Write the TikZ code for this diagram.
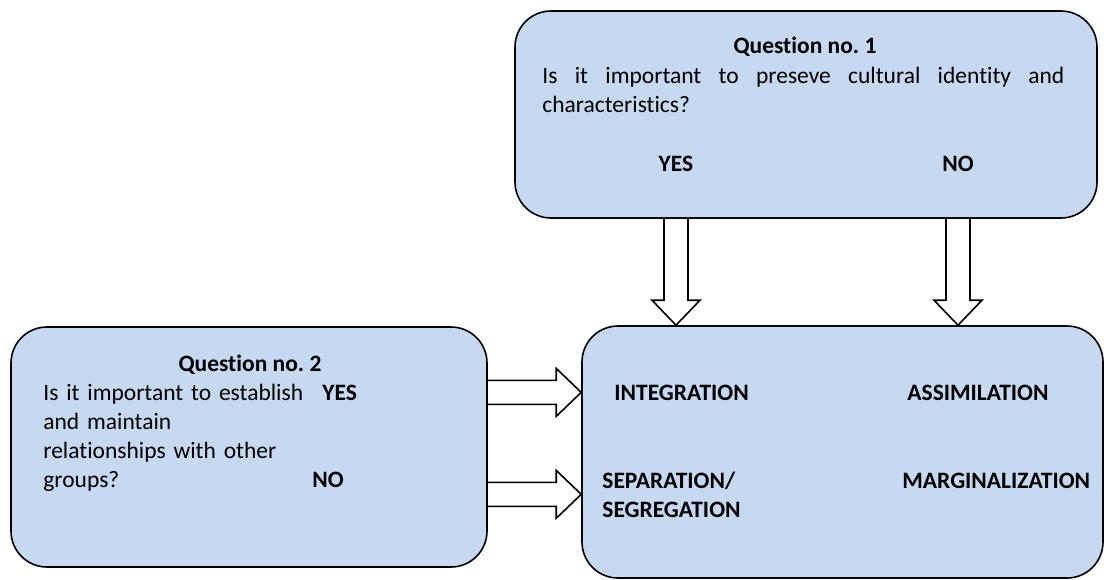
\documentclass[tikz,border=0pt]{standalone}
\usepackage{fontspec}
\setmainfont{Carlito}[Ligatures={NoCommon}]
\usetikzlibrary{calc,backgrounds}
\definecolor{panelblue}{HTML}{C6D9F1}
\hyphenpenalty=10000
\tolerance=10000
\frenchspacing
\newcommand{\diagfont}{\fontsize{11.75}{14.5}\selectfont}
% hollow block arrow from #1 to the tip #2
\newcommand{\fatarrow}[2]{%
  \coordinate (fah) at ($(#2)!12.5pt!(#1)$);
  \filldraw[fatline] ($(#1)!6pt!90:(#2)$) -- ($(fah)!6pt!90:(#2)$) -- ($(fah)!12pt!90:(#2)$)
    -- (#2) -- ($(fah)!12pt!-90:(#2)$) -- ($(fah)!6pt!-90:(#2)$) -- ($(#1)!6pt!-90:(#2)$);
}
\begin{document}
\begin{tikzpicture}[
    x=0.5pt, y=-0.5pt,
    every node/.style={font=\diagfont, inner sep=0pt},
    panel/.style={draw, line width=0.8pt, rounded corners=18pt, fill=panelblue},
    answer/.style={font=\diagfont\bfseries},
    fatline/.style={draw, fill=white, line width=0.8pt, line join=miter}
]
\useasboundingbox (0,0) rectangle (1104,579);

% the three boxes
\node [panel, minimum width=291pt, minimum height=103.5pt] (q1box) at (806,114.5) {};
\node [panel, minimum width=238pt, minimum height=120pt] (q2box) at (249,447) {};
\node [panel, minimum width=260.5pt, minimum height=126pt] (outbox) at (842.5,452) {};

% question 1
\node [answer, anchor=base] (q1title) at (805,53) {Question no. 1};
\node [anchor=base west, text width=261pt, align=justify] (q1text) at (542,83)
    {Is it important to preseve cultural identity and characteristics?};
\node [answer, anchor=base] (q1yes) at (676,171) {YES};
\node [answer, anchor=base] (q1no) at (958,171) {NO};

% question 2
\node [answer, anchor=base] (q2title) at (250,371) {Question no. 2};
\node [anchor=base west, text width=140pt, align=left] (q2text) at (43,400)
    {Is it important to establish\\and maintain\\relationships with other\\groups?};
\node [answer, anchor=base west] (q2yes) at (322,400) {YES};
\node [answer, anchor=base west] (q2no) at (312,487) {NO};

% outcomes
\node [answer, anchor=base west] (integr) at (614,400) {INTEGRATION};
\node [answer, anchor=base west] (assim) at (907,400) {ASSIMILATION};
\node [answer, anchor=base west, text width=80pt, align=left] (sepseg) at (602,488) {SEPARATION/\\SEGREGATION};
\node [answer, anchor=base west] (margin) at (902,488) {MARGINALIZATION};

% block arrows
\coordinate (yesdown) at (q1yes |- q1box.south);
\coordinate (yesdowntip) at (q1yes |- outbox.north);
\coordinate (nodown) at (q1no |- q1box.south);
\coordinate (nodowntip) at (q1no |- outbox.north);
\coordinate (yesright) at (q2box.east |- integr.west);
\coordinate (yesrighttip) at (outbox.west |- integr.west);
\coordinate (noright) at (q2box.east |- sepseg.west);
\coordinate (norighttip) at (outbox.west |- sepseg.west);
\begin{scope}[on background layer]
\fatarrow{yesdown}{yesdowntip}
\fatarrow{nodown}{nodowntip}
\fatarrow{yesright}{yesrighttip}
\fatarrow{noright}{norighttip}
\end{scope}
\end{tikzpicture}
\end{document}
